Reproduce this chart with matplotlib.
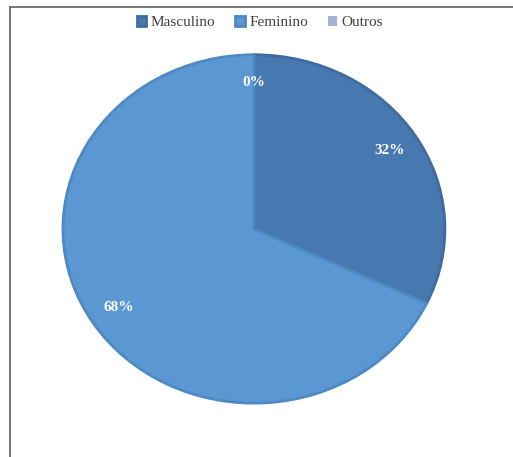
import matplotlib.pyplot as plt
from matplotlib.lines import Line2D

generos = ["Masculino", "Feminino", "Outros"]
percentuais = [32, 68, 0]
cores = ["#4878B0", "#5A97D3", "#A3B5D6"]
bordas = ["#3F6CA0", "#4E89C2", "none"]

plt.rcParams["font.family"] = ["Liberation Serif", "DejaVu Serif"]

fig = plt.figure(figsize=(5.13, 4.57), dpi=100)
ax = fig.add_axes([0.119, 0.114, 0.752, 0.770])

wedges, textos, pcts = ax.pie(
    percentuais,
    colors=cores,
    startangle=90,
    counterclock=False,
    autopct=lambda p: "%d%%" % round(p),
    pctdistance=0.84,
    wedgeprops=dict(linewidth=2),
    textprops=dict(color="white", fontsize=11, fontweight="bold"),
)
for w, b in zip(wedges, bordas):
    w.set_edgecolor(b)
# fatia de 0% não tem largura, então sem contorno
wedges[2].set_linewidth(0)

# pizza levemente achatada, como no gráfico original
ax.set_aspect("auto")
ax.set_xlim(-1.01, 1.01)
ax.set_ylim(-1.01, 1.01)

fig.legend(
    wedges,
    generos,
    loc="center",
    bbox_to_anchor=(0.507, 0.95),
    ncol=3,
    frameon=False,
    fontsize=11,
    handlelength=0.6,
    handleheight=0.6,
    handletextpad=0.3,
    columnspacing=1.3,
    labelcolor="#404040",
)

# moldura (só as bordas superior e esquerda aparecem)
fig.add_artist(Line2D([10 / 513, 1], [1 - 6.5 / 457] * 2, transform=fig.transFigure, color="#606060", lw=1.2))
fig.add_artist(Line2D([10 / 513] * 2, [0, 1 - 6.5 / 457], transform=fig.transFigure, color="#606060", lw=1.2))

fig.savefig("out.png", dpi=100)
